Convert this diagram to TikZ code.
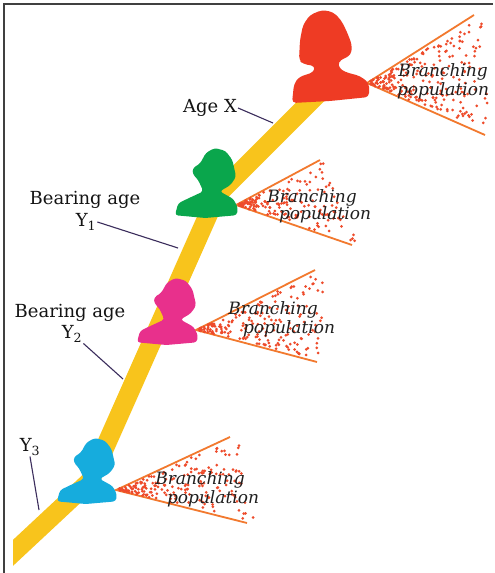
\documentclass[tikz,border=0pt]{standalone}
\usepackage{fontspec}
\setmainfont{DejaVu Serif}
\usepackage{tikz}
\usetikzlibrary{calc}
\usetikzlibrary{positioning}

\definecolor{trunkyellow}{HTML}{F8C41C}
\definecolor{bustred}{HTML}{EE3B24}
\definecolor{bustgreen}{HTML}{0AA64C}
\definecolor{bustpink}{HTML}{E8308C}
\definecolor{bustblue}{HTML}{16ACDD}
\definecolor{fanorange}{HTML}{F2792E}
\definecolor{dotred}{HTML}{EE4B2B}
\definecolor{pointerink}{HTML}{3B2D5C}

% head-and-shoulders outline in a unit box, facing left
\newcommand{\bust}[2]{%
  \fill[#1,#2,rounded corners=3pt] (0,0.96) -- (0.05,0.79) -- (0.21,0.72) -- (0.45,0.62) -- (0.37,0.46) -- (0.28,0.37) -- (0.28,0.29) -- (0.40,0.22) -- (0.49,0.07) -- (0.63,0) -- (0.80,0.04) -- (0.91,0.17) -- (0.97,0.41) -- (0.88,0.53) -- (0.71,0.62) -- (0.93,0.73) -- (1,0.86) -- (0.98,0.96) -- (0.48,1) -- cycle;}

% two rays from the tip and a spray of dots between them
\newcommand{\spray}[4]{%
  \draw[fanline] (#2) -- (#1) -- (#3);
  \foreach \k in {1,...,#4}{
    \pgfmathsetmacro\fanT{0.03+1.03*rnd^1.25}
    \pgfmathsetmacro\fanS{0.04+0.92*rnd}
    \fill[fandot] ($(#1)!\fanT!($(#2)!\fanS!(#3)$)$) circle (1.5);
  }}

\begin{document}
\begin{tikzpicture}[x=1pt,y=-1pt,
    trunk/.style={trunkyellow,line width=19pt,line join=round},
    fanline/.style={fanorange,line width=1.8pt},
    fandot/.style={dotred},
    pointer/.style={pointerink,line width=1.1pt},
    agelabel/.style={font=\fontsize{18}{21}\selectfont,text=black!92,inner sep=1pt},
    branch/.style={font=\fontsize{17}{19}\selectfont\itshape,text=black!88,inner sep=0pt}]
  \useasboundingbox (0,0) rectangle (495,573);
  \fill[white] (0,0) rectangle (495,573);
  \draw[black!75,line width=1.4pt] (4,573) -- (4,4) -- (493,4);

  \begin{scope}
    \clip (13,0) rectangle (495,573);
    \draw[trunk] (0,565) -- (90,481) -- (217,195) -- (318,94);
  \end{scope}

  \pgfmathsetseed{17}
  \coordinate (redtip) at (367,83);
  \coordinate (redup) at (474,15);
  \coordinate (redlow) at (485,135);
  \coordinate (greentip) at (236,205);
  \coordinate (greenup) at (320,160);
  \coordinate (greenlow) at (352,245);
  \coordinate (pinktip) at (196,330);
  \coordinate (pinkup) at (315,270);
  \coordinate (pinklow) at (317,362);
  \coordinate (bluetip) at (116,490);
  \coordinate (blueup) at (230,437);
  \coordinate (bluelow) at (247,523);
  \spray{redtip}{redup}{redlow}{240}
  \spray{greentip}{greenup}{greenlow}{170}
  \spray{pinktip}{pinkup}{pinklow}{190}
  \spray{bluetip}{blueup}{bluelow}{190}

  \fill[bustred,rounded corners=4pt] (292,103) -- (294,84) -- (299,77) -- (314,72) -- (315,66) -- (303,64) -- (299,60) -- (300,40) -- (303,25) -- (310,15) -- (322,10) -- (333,12) -- (341,20) -- (347,32) -- (352,45) -- (351,55) -- (343,59) -- (338,62) -- (339,68) -- (345,72) -- (360,76) -- (369,83) -- (369,97) -- (330,101) -- cycle;
  \bust{bustgreen}{shift={(175,148)},x=63pt,y=-70pt}
  \bust{bustpink}{shift={(137,278)},x=61pt,y=-67pt}
  \bust{bustblue}{shift={(57,438)},x=60pt,y=-66pt}

  \node[branch] (redbranch) at (443,72) {Branching};
  \node[branch] (redpop) at (443,91) {population};
  \node[branch] (greenbranch) at (312,198) {Branching};
  \node[branch] (greenpop) at (325,215) {population};
  \node[branch] (pinkbranch) at (273,310) {Branching};
  \node[branch] (pinkpop) at (289,329) {population};
  \node[branch] (bluebranch) at (200,480) {Branching};
  \node[branch] (bluepop) at (213,499) {population};

  \node[agelabel] (agex) at (210,108) {Age X};
  \node[agelabel] (bear1) at (85,200) {Bearing age};
  \node[agelabel] (y1) at (86,222) {Y\textsubscript{1}};
  \node[agelabel] (bear2) at (70,313) {Bearing age};
  \node[agelabel] (y2) at (72,334) {Y\textsubscript{2}};
  \node[agelabel] (y3) at (30,447) {Y\textsubscript{3}};

  \coordinate (xmark) at (273,123);
  \coordinate (y1mark) at (178,248);
  \coordinate (y2mark) at (123,379);
  \coordinate (y3mark) at (39,510);
  \draw[pointer] (agex.east) -- (xmark);
  \draw[pointer] (y1.east) -- (y1mark);
  \draw[pointer] (y2.south east) -- (y2mark);
  \draw[pointer] (y3.south) -- (y3mark);
\end{tikzpicture}
\end{document}
